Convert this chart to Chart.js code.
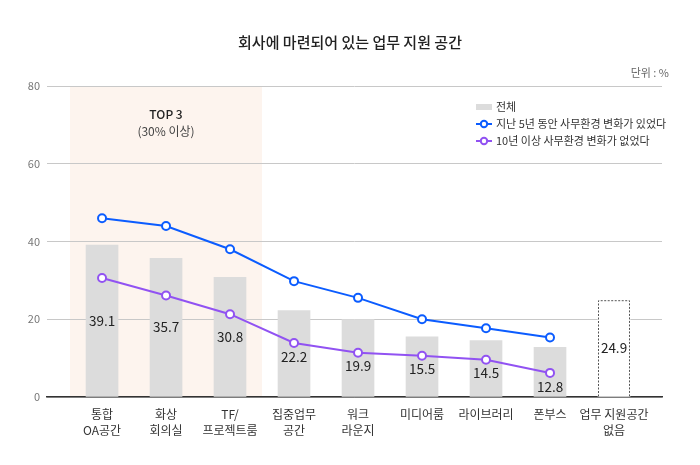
<!DOCTYPE html>
<html>
<head>
<meta charset="utf-8">
<script src="https://cdn.jsdelivr.net/npm/chart.js@4.4.1/dist/chart.umd.min.js"></script>
<style>
  html, body { margin: 0; padding: 0; background: #fff; }
  #wrap { width: 700px; height: 465px; position: relative; }
</style>
</head>
<body>
<div id="wrap"><canvas id="spaces" width="700" height="465"></canvas></div>
<script>
const categories = [
  ['통합', 'OA공간'], ['화상', '회의실'], ['TF/', '프로젝트룸'], ['집중업무', '공간'],
  ['워크', '라운지'], ['미디어룸'], ['라이브러리'], ['폰부스'], ['업무 지원공간', '없음']
]
const totalValues = [39.1, 35.7, 30.8, 22.2, 19.9, 15.5, 14.5, 12.8, 24.9]
const changed5y = [46.0, 44.0, 38.0, 29.8, 25.5, 20.0, 17.7, 15.3]
const same10y = [30.6, 26.1, 21.3, 13.9, 11.4, 10.6, 9.6, 6.2]
const yTicks = [0, 20, 40, 60, 80]

const FONT = "'Noto Sans CJK KR', 'Noto Sans', sans-serif"
const BLUE = '#0b5cff'
const PURPLE = '#9152f2'
const BAR_GREY = '#dcdcdc'

const toPoints = arr => arr.map((v, i) => ({x: i, y: v}))

const overlay = {
  id: 'overlay',
  beforeDraw(chart) {
    const {ctx, chartArea, scales} = chart
    // TOP 3 band
    const x0 = scales.x.getPixelForValue(-0.5)
    const x1 = scales.x.getPixelForValue(2.5)
    ctx.save()
    ctx.fillStyle = '#fdf4ee'
    ctx.fillRect(x0, chartArea.top, x1 - x0, chartArea.bottom - chartArea.top)
    ctx.restore()
  },
  afterDatasetsDraw(chart) {
    const {ctx} = chart
    const bars = chart.getDatasetMeta(2).data
    const purplePts = chart.getDatasetMeta(1).data
    ctx.save()
    // dashed outline on the last bar
    const last = bars[bars.length - 1]
    const half = last.width / 2
    ctx.strokeStyle = '#555'
    ctx.lineWidth = 1
    ctx.setLineDash([2, 1.5])
    ctx.beginPath()
    ctx.moveTo(last.x - half + 0.5, last.base)
    ctx.lineTo(last.x - half + 0.5, last.y + 0.5)
    ctx.lineTo(last.x + half - 0.5, last.y + 0.5)
    ctx.lineTo(last.x + half - 0.5, last.base)
    ctx.stroke()
    ctx.setLineDash([])
    // value labels: middle of the bar, pushed below the purple point if needed
    ctx.fillStyle = '#222'
    ctx.font = '13.5px ' + FONT
    ctx.textAlign = 'center'
    ctx.textBaseline = 'middle'
    bars.forEach((b, i) => {
      let y = (b.y + b.base) / 2
      if (purplePts[i]) y = Math.max(y, purplePts[i].y + 13.5)
      ctx.fillText(totalValues[i].toFixed(1), b.x, y)
    })
    ctx.restore()
  },
  afterDraw(chart) {
    const {ctx, scales} = chart
    ctx.save()
    // title
    ctx.fillStyle = '#222'
    ctx.textAlign = 'center'
    ctx.textBaseline = 'middle'
    ctx.font = '500 15px ' + FONT
    ctx.fillText('회사에 마련되어 있는 업무 지원 공간', 350, 42)
    // unit
    ctx.fillStyle = '#666'
    ctx.textAlign = 'right'
    ctx.font = '11px ' + FONT
    ctx.fillText('단위 : %', 669, 73)
    // TOP 3 note
    const cx = scales.x.getPixelForValue(1)
    ctx.textAlign = 'center'
    ctx.fillStyle = '#222'
    ctx.font = '500 12px ' + FONT
    ctx.fillText('TOP 3', cx, 114)
    ctx.fillStyle = '#444'
    ctx.font = '12px ' + FONT
    ctx.fillText('(30% 이상)', cx, 131)
    // legend
    ctx.textAlign = 'left'
    ctx.font = '11px ' + FONT
    ctx.fillStyle = BAR_GREY
    ctx.fillRect(476, 104, 16, 6)
    ctx.fillStyle = '#333'
    ctx.fillText('전체', 496, 107)
    const rows = [[BLUE, '지난 5년 동안 사무환경 변화가 있었다', 124], [PURPLE, '10년 이상 사무환경 변화가 없었다', 141]]
    rows.forEach(([c, t, y]) => {
      ctx.strokeStyle = c
      ctx.lineWidth = 2
      ctx.beginPath()
      ctx.moveTo(476, y)
      ctx.lineTo(492, y)
      ctx.stroke()
      ctx.beginPath()
      ctx.arc(484, y, 3.2, 0, Math.PI * 2)
      ctx.fillStyle = '#fff'
      ctx.fill()
      ctx.stroke()
      ctx.fillStyle = '#333'
      ctx.fillText(t, 496, y)
    })
    ctx.restore()
  }
}

const ctx = document.getElementById('spaces').getContext('2d')
const spacesChart = new Chart(ctx, {
  type: 'bar',
  data: {
    datasets: [
      {
        type: 'line',
        data: toPoints(changed5y),
        borderColor: BLUE,
        borderWidth: 2,
        pointBackgroundColor: '#fff',
        pointBorderColor: BLUE,
        pointBorderWidth: 2,
        pointRadius: 4,
        order: 1
      },
      {
        type: 'line',
        data: toPoints(same10y),
        borderColor: PURPLE,
        borderWidth: 2,
        pointBackgroundColor: '#fff',
        pointBorderColor: PURPLE,
        pointBorderWidth: 2,
        pointRadius: 4,
        order: 2
      },
      {
        type: 'bar',
        data: toPoints(totalValues),
        backgroundColor: totalValues.map((v, i) => i === totalValues.length - 1 ? '#fff' : BAR_GREY),
        barThickness: 32,
        order: 3
      }
    ]
  },
  options: {
    responsive: false,
    animation: false,
    devicePixelRatio: 1,
    layout: { padding: { top: 86, left: 0, right: 38, bottom: 0 } },
    plugins: {
      legend: { display: false },
      title: { display: false },
      tooltip: { enabled: false }
    },
    scales: {
      x: {
        type: 'linear',
        offset: false,
        min: -0.86,
        max: 8.75,
        afterBuildTicks: axis => { axis.ticks = categories.map((c, i) => ({value: i})) },
        afterFit: axis => { axis.height = 68 },
        grid: { display: false, drawTicks: false },
        border: { color: '#333', width: 1.5 },
        ticks: {
          autoSkip: false,
          maxRotation: 0,
          padding: 9,
          color: '#333',
          font: { family: FONT, size: 12, lineHeight: 1.35 },
          callback: v => categories[v]
        }
      },
      y: {
        min: 0,
        max: 80,
        afterBuildTicks: axis => { axis.ticks = yTicks.map(v => ({value: v})) },
        afterFit: axis => { axis.width = 47 },
        grid: { color: '#c8c8c8', drawTicks: false },
        border: { display: false },
        ticks: {
          padding: 7,
          color: '#777',
          font: { family: FONT, size: 11 }
        }
      }
    }
  },
  plugins: [overlay]
})
</script>
</body>
</html>
